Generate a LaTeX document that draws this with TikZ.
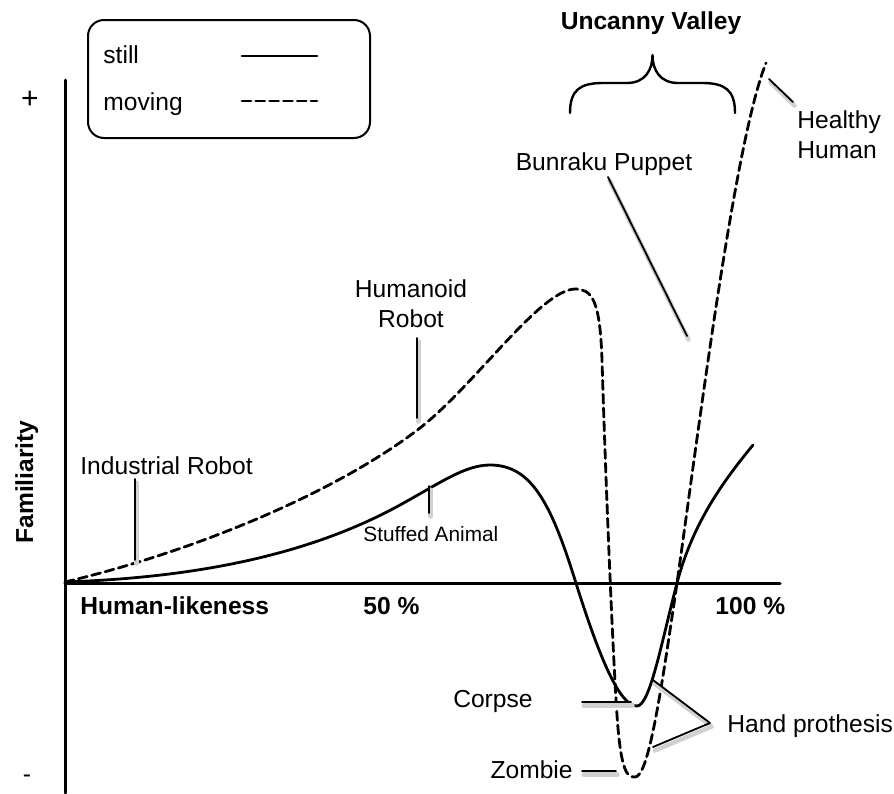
\documentclass[tikz,border=0pt]{standalone}
\usepackage{fontspec}
\setmainfont{Liberation Sans}
\usetikzlibrary{backgrounds}

\begin{document}
\begin{tikzpicture}[line cap=round,line join=round,x=0.5pt,y=-0.5pt,
    lbl/.style={inner sep=0, font=\fontsize{12.3}{15}\selectfont},
    still/.style={line width=1.4pt},
    moving/.style={line width=1.4pt, dash pattern=on 4.5pt off 2.4pt},
    pointer/.style={line width=0.9pt, preaction={draw=black!18, line width=2.2pt,
        transform canvas={shift={(0.8pt,-1.8pt)}}}}]
      \useasboundingbox (0,0) rectangle (894,793);

      % axes
      \draw[line width=1.5pt] (65,80) -- (65,793);
      \draw[line width=1.5pt] (65,583) -- (780,583);
      \node[lbl, font=\fontsize{15}{15}\selectfont] (plus) at (30,100) {+};
      \node[lbl] (minus) at (27,779) {-};
      \node[lbl, font=\fontsize{12.3}{15}\selectfont\bfseries, rotate=90, anchor=base] (fam) at (33,482) {Familiarity};
      \node[lbl, font=\fontsize{12.3}{15}\selectfont\bfseries, anchor=base west] (hl) at (80,614) {Human-likeness};
      \node[lbl, font=\fontsize{12.3}{15}\selectfont\bfseries, anchor=base west] (half) at (363,614) {50 \%};
      \node[lbl, font=\fontsize{12.3}{15}\selectfont\bfseries, anchor=base west] (full) at (715,614) {100 \%};

      % legend
      \draw[line width=1pt, rounded corners=8pt] (88,20) rectangle (370,138);
      \node[lbl, anchor=base west] (lstill) at (103,63) {still};
      \node[lbl, anchor=base west] (lmoving) at (103,110) {moving};
      \draw[still] (242,56) -- (317,56);
      \draw[moving] (242,101) -- (317,101);

      % still
      \draw[still] (65,582) .. controls (180,578) and (300,560) .. (400,505)
        .. controls (440,483) and (465,465) .. (490,465)
        .. controls (530,465) and (550,500) .. (575,580)
        .. controls (600,660) and (620,706) .. (637,706)
        .. controls (650,706) and (662,640) .. (677,583)
        .. controls (692,526) and (720,485) .. (753,445);

      % moving
      \draw[moving] (65,582) .. controls (200,550) and (340,490) .. (420,428)
        .. controls (475,385) and (540,290) .. (575,289)
        .. controls (592,289) and (600,300) .. (602,360)
        .. controls (605,460) and (612,640) .. (617,715)
        .. controls (621,775) and (628,777) .. (635,777)
        .. controls (648,777) and (660,700) .. (677,583)
        .. controls (700,420) and (735,140) .. (766,63);

      % uncanny valley
      \draw[line width=1.2pt] (570,113) .. controls (570,90) and (580,83) .. (603,83) -- (627,83)
        .. controls (645,83) and (652.5,70) .. (652.5,55)
        .. controls (652.5,70) and (660,83) .. (678,83) -- (702,83)
        .. controls (725,83) and (735,90) .. (735,113);
      \node[lbl, font=\fontsize{12.3}{15}\selectfont\bfseries, anchor=base] (uv) at (651,29) {Uncanny Valley};

      % Healthy Human
      \node[lbl, align=left, anchor=north west] (hh) at (797,110) {Healthy\\Human};
      \coordinate (hh1) at (769,79);
      \coordinate (hh2) at (793,102);
      \draw[pointer] (hh1) -- (hh2);

      % Bunraku Puppet
      \node[lbl, anchor=base] (bp) at (604,170) {Bunraku Puppet};
      \coordinate (bp1) at (608,177);
      \coordinate (bp2) at (687,336);
      \draw[pointer] (bp1) -- (bp2);

      % Humanoid Robot
      \node[lbl, align=center, anchor=north] (hr) at (411,279) {Humanoid\\Robot};
      \coordinate (hr1) at (417,338);
      \coordinate (hr2) at (417,418);
      \draw[pointer] (hr1) -- (hr2);

      % Industrial Robot
      \node[lbl, anchor=base west] (ir) at (80,474) {Industrial Robot};
      \coordinate (ir1) at (135,479);
      \coordinate (ir2) at (135,560);
      \draw[pointer] (ir1) -- (ir2);

      % Stuffed Animal
      \node[lbl, font=\fontsize{10.4}{12}\selectfont, anchor=base west] (sa) at (363,541) {Stuffed Animal};
      \coordinate (sa1) at (429,486);
      \coordinate (sa2) at (429,513);
      \draw[pointer] (sa1) -- (sa2);

      % Corpse
      \node[lbl, anchor=base east] (corpse) at (533,707) {Corpse};
      \coordinate (co1) at (582,702);
      \coordinate (co2) at (631,702);
      \draw[pointer] (co1) -- (co2);

      % Zombie
      \node[lbl, anchor=base east] (zombie) at (573,778) {Zombie};
      \coordinate (zo1) at (582,771);
      \coordinate (zo2) at (616,771);
      \draw[pointer] (zo1) -- (zo2);

      % Hand prothesis
      \node[lbl, anchor=base west] (hp) at (727,732) {Hand prothesis};
      \coordinate (hp1) at (653,680);
      \coordinate (hp2) at (710,723);
      \coordinate (hp3) at (653,747);
      \draw[pointer] (hp1) -- (hp2) -- (hp3);

\end{tikzpicture}
\end{document}
